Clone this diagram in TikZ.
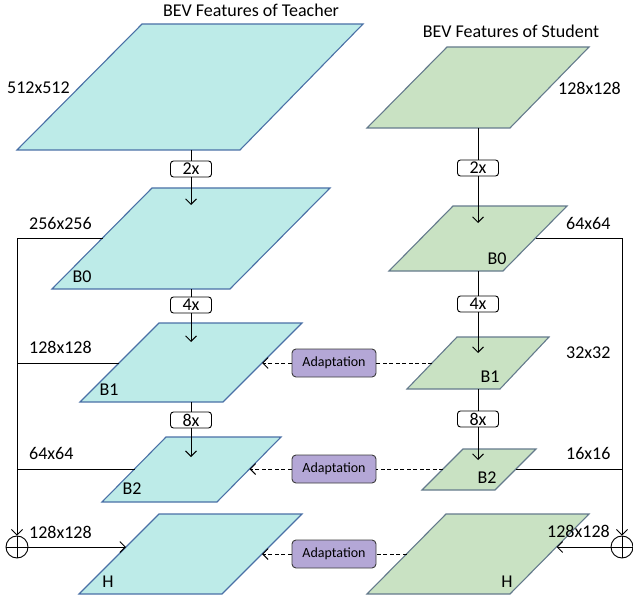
\documentclass[tikz,border=0pt]{standalone}
\usepackage{fontspec}
\setmainfont{Carlito}
\usetikzlibrary{arrows.meta}
\definecolor{tfill}{RGB}{189,235,232}
\definecolor{tdraw}{RGB}{74,112,166}
\definecolor{sfill}{RGB}{201,226,195}
\definecolor{sdraw}{RGB}{100,122,140}
\definecolor{afill}{RGB}{180,167,214}
\definecolor{adraw}{RGB}{60,60,60}
\tikzset{
  tpara/.style={fill=tfill,draw=tdraw,line width=1.1pt,line join=miter},
  spara/.style={fill=sfill,draw=sdraw,line width=1.1pt,line join=miter},
  lbl/.style={font=\fontsize{18}{21}\selectfont,inner sep=0pt},
  scalebox/.style={draw=black,line width=0.9pt,rounded corners=3pt,fill=white,minimum width=41pt,minimum height=16pt,inner sep=0pt,font=\fontsize{18}{21}\selectfont},
  adapt/.style={draw=adraw,line width=0.9pt,rounded corners=4pt,fill=afill,minimum width=84pt,minimum height=28pt,inner sep=0pt,font=\fontsize{14}{16}\selectfont},
  conn/.style={line width=0.9pt,draw=black},
  arr/.style={conn,-{Straight Barb[length=5.5pt,width=11pt,line width=0.9pt]}},
  darr/.style={conn,dashed,dash pattern=on 4pt off 2.5pt,-{Straight Barb[length=5.5pt,width=11pt,line width=0.9pt]}},
  dline/.style={conn,dashed,dash pattern=on 4pt off 2.5pt},
  oplus/.style={circle,draw=black,line width=0.9pt,minimum size=22pt,inner sep=0pt,fill=white},
}
\begin{document}
\begin{tikzpicture}[x=1pt,y=-1pt]
\useasboundingbox (0,0) rectangle (633,602);
% titles
\node[lbl] (tt) at (251,10) {BEV Features of Teacher};
\node[lbl] (st) at (511,31) {BEV Features of Student};

% teacher parallelograms
\draw[tpara] (142,24) -- (363,24) -- (240,150) -- (17,150) -- cycle;
\draw[tpara] (152,188) -- (330,188) -- (230,289) -- (52,289) -- cycle;
\draw[tpara] (159,323) -- (302,323) -- (223,402) -- (80,402) -- cycle;
\draw[tpara] (166,437) -- (281,437) -- (217,502) -- (102,502) -- cycle;
\draw[tpara] (159,514) -- (302,514) -- (222,594) -- (79,594) -- cycle;
% student parallelograms
\draw[spara] (447,47) -- (589,47) -- (510,128) -- (367,128) -- cycle;
\draw[spara] (453,206) -- (567,206) -- (503,271) -- (389,271) -- cycle;
\draw[spara] (457,337) -- (549,337) -- (500,389) -- (407,389) -- cycle;
\draw[spara] (463,449) -- (536,449) -- (495,490) -- (422,490) -- cycle;
\draw[spara] (446,514) -- (589,514) -- (510,594) -- (367,594) -- cycle;

% parallelogram labels
\node[lbl] (tB0) at (82,277) {B0};
\node[lbl] (tB1) at (109,390) {B1};
\node[lbl] (tB2) at (132,489) {B2};
\node[lbl] (tH) at (108,582) {H};
\node[lbl] (sB0) at (497,259) {B0};
\node[lbl] (sB1) at (490,377) {B1};
\node[lbl] (sB2) at (487,478) {B2};
\node[lbl] (sH) at (507,582) {H};

% size labels
\node[lbl,anchor=west] (l512) at (7,88) {512x512};
\node[lbl,anchor=west] (l256) at (29,223) {256x256};
\node[lbl,anchor=west] (l128a) at (29,347) {128x128};
\node[lbl,anchor=west] (l64a) at (29,453) {64x64};
\node[lbl,anchor=west] (l128b) at (29,532) {128x128};
\node[lbl,anchor=west] (r128a) at (558,88) {128x128};
\node[lbl,anchor=west] (r64) at (566,223) {64x64};
\node[lbl,anchor=west] (r32) at (566,353) {32x32};
\node[lbl,anchor=west] (r16) at (566,453) {16x16};
\node[lbl,anchor=west] (r128b) at (547,531) {128x128};

% coordinates on parallelogram edges
\coordinate (t0b) at (191,150);
\coordinate (t1b) at (191,289);
\coordinate (t2b) at (191,402);
\coordinate (t1tip) at (191,205);
\coordinate (t2tip) at (191,342);
\coordinate (t3tip) at (191,457);
\coordinate (s0b) at (478,128);
\coordinate (s1b) at (478,271);
\coordinate (s2b) at (478,389);
\coordinate (s1tip) at (478,223);
\coordinate (s2tip) at (478,353);
\coordinate (s3tip) at (478,460);

\coordinate (t1L) at (102.5,238);
\coordinate (t2L) at (119,363);
\coordinate (t3L) at (134.5,469);
\coordinate (t4L) at (126,547);
\coordinate (t2R) at (262,363);
\coordinate (t3R) at (249.5,469);
\coordinate (t4R) at (262,554);
\coordinate (s1R) at (535.5,238);
\coordinate (s3R) at (516,469);
\coordinate (s4R) at (556.5,547);
\coordinate (s2L) at (432,363);
\coordinate (s3L) at (443,469);
\coordinate (s4L) at (406.5,554);
\coordinate (lc1) at (17,238);
\coordinate (lc2) at (17,363);
\coordinate (lc3) at (17,469);
\coordinate (rc1) at (622,238);
\coordinate (rc3) at (622,469);

% scale boxes and vertical arrows
\node[scalebox] (t2x) at (191,169) {2x};
\node[scalebox] (t4x) at (191,305) {4x};
\node[scalebox] (t8x) at (191,420) {8x};
\node[scalebox] (s2x) at (478,168) {2x};
\node[scalebox] (s4x) at (478,304) {4x};
\node[scalebox] (s8x) at (478,419) {8x};
\draw[conn] (t0b) -- (t2x);
\draw[arr] (t2x) -- (t1tip);
\draw[conn] (t1b) -- (t4x);
\draw[arr] (t4x) -- (t2tip);
\draw[conn] (t2b) -- (t8x);
\draw[arr] (t8x) -- (t3tip);
\draw[conn] (s0b) -- (s2x);
\draw[arr] (s2x) -- (s1tip);
\draw[conn] (s1b) -- (s4x);
\draw[arr] (s4x) -- (s2tip);
\draw[conn] (s2b) -- (s8x);
\draw[arr] (s8x) -- (s3tip);

% sum nodes
\node[oplus] (lsum) at (17,547) {};
\node[oplus] (rsum) at (622,547) {};
\draw[conn] (lsum.north) -- (lsum.south);
\draw[conn] (lsum.west) -- (lsum.east);
\draw[conn] (rsum.north) -- (rsum.south);
\draw[conn] (rsum.west) -- (rsum.east);

% left skip connections
\draw[conn] (t1L) -- (lc1);
\draw[conn] (t2L) -- (lc2);
\draw[conn] (t3L) -- (lc3);
\draw[arr] (lc1) -- (lsum.north);
\draw[arr] (lsum.east) -- (t4L);
% right skip connections
\draw[conn] (s1R) -- (rc1);
\draw[conn] (s3R) -- (rc3);
\draw[arr] (rc1) -- (rsum.north);
\draw[arr] (rsum.west) -- (s4R);

% adaptation
\node[adapt] (a1) at (334,363) {Adaptation};
\node[adapt] (a2) at (334,469) {Adaptation};
\node[adapt] (a3) at (334,554) {Adaptation};
\draw[darr] (a1) -- (t2R);
\draw[darr] (a2) -- (t3R);
\draw[darr] (a3) -- (t4R);
\draw[dline] (s2L) -- (a1);
\draw[dline] (s3L) -- (a2);
\draw[dline] (s4L) -- (a3);
\end{tikzpicture}
\end{document}
